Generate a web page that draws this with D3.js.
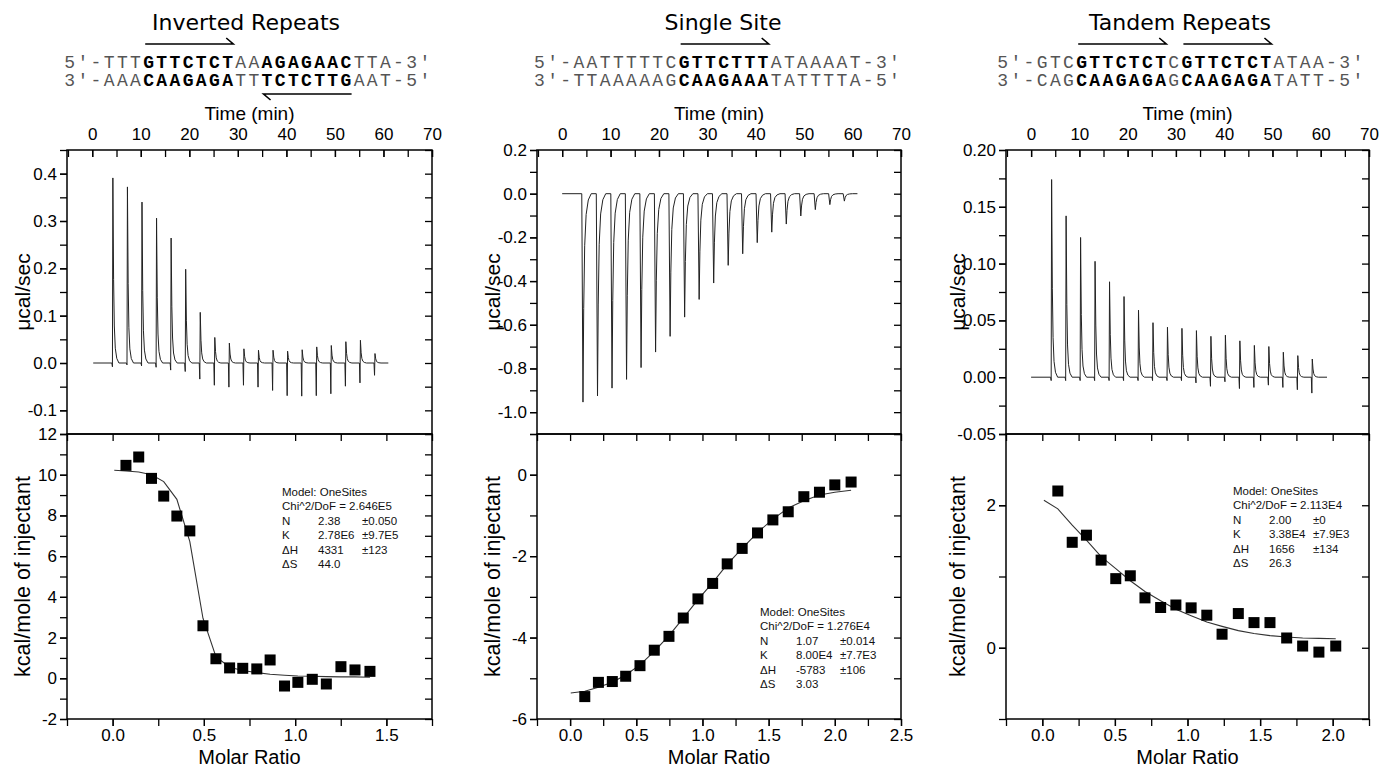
<!DOCTYPE html>
<html>
<head>
<meta charset="utf-8">
<script src="https://cdn.jsdelivr.net/npm/d3@7"></script>
<style>
body { margin: 0; background: #fff; }
</style>
</head>
<body>
<svg id="chart" width="1382" height="770" font-family="Liberation Sans, Arial, sans-serif"></svg>
<script>
const WIDTH = 1382, HEIGHT = 770;
const TOP_Y = 150, MID_Y = 434, BOT_Y = 719;
const TICK = 7;
const PANEL_LEFT = [67, 537, 1006];
const PANEL_RIGHT = [432, 901, 1369];
const TITLE_X = [246, 723, 1180];
const SEQ_X = [64.3, 534, 997.3];
const YLABEL_OFFSET = [37, 37, 41];
const CHAR_W = 13.15;
const SEQ_FONT = 18;

// ---- header text ----
const TITLES = ["Inverted Repeats", "Single Site", "Tandem Repeats"];
// [text, bold]
const SEQ_TOP = [
  [["5'-TTT", 0], ["GTTCTCT", 1], ["AA", 0], ["AGAGAAC", 1], ["TTA-3'", 0]],
  [["5'-AATTTTTC", 0], ["GTTCTTT", 1], ["ATAAAAT-3'", 0]],
  [["5'-GTC", 0], ["GTTCTCT", 1], ["C", 0], ["GTTCTCT", 1], ["ATAA-3'", 0]]
];
const SEQ_BOT = [
  [["3'-AAA", 0], ["CAAGAGA", 1], ["TT", 0], ["TCTCTTG", 1], ["AAT-5'", 0]],
  [["3'-TTAAAAAG", 0], ["CAAGAAA", 1], ["TATTTTA-5'", 0]],
  [["3'-CAG", 0], ["CAAGAGA", 1], ["G", 0], ["CAAGAGA", 1], ["TATT-5'", 0]]
];
// arrows: [first char index, last char index, direction]
const ARROWS = [
  [[6, 12, "right"], [15, 21, "left"]],
  [[11, 17, "right"]],
  [[6, 12, "right"], [14, 20, "right"]]
];

// ---- raw thermogram (top panels) ----
const TIME_DOMAIN = [-5.2, 70];
const TIME_TICKS = [0, 10, 20, 30, 40, 50, 60, 70];
const INJ_TIMES = [4.2, 7.2, 10.2, 13.2, 16.2, 19.2, 22.2, 25.2, 28.2, 31.2,
  34.2, 37.2, 40.2, 43.2, 46.2, 49.2, 52.2, 55.2, 58.2];

const IR_PEAKS = [0.391, 0.372, 0.340, 0.306, 0.264, 0.198, 0.107, 0.054, 0.042, 0.030,
  0.027, 0.027, 0.025, 0.028, 0.034, 0.037, 0.045, 0.048, 0.020];
const IR_DIPS = [-0.008, -0.004, -0.006, -0.009, -0.015, -0.018, -0.034, -0.047, -0.051, -0.047,
  -0.051, -0.058, -0.069, -0.070, -0.069, -0.065, -0.049, -0.042, -0.026];
const SS_PEAKS = [-0.954, -0.926, -0.890, -0.850, -0.796, -0.725, -0.653, -0.565, -0.484, -0.409,
  -0.328, -0.275, -0.224, -0.176, -0.139, -0.102, -0.073, -0.050, -0.034];
const TR_PEAKS = [0.174, 0.142, 0.123, 0.102, 0.084, 0.071, 0.059, 0.048, 0.044, 0.043,
  0.041, 0.036, 0.037, 0.032, 0.028, 0.027, 0.022, 0.019, 0.016];
const TR_DIPS = [-0.003, -0.003, -0.003, -0.003, -0.003, -0.003, -0.003, -0.003, -0.003, -0.003,
  -0.005, -0.008, -0.004, -0.010, -0.009, -0.007, -0.009, -0.011, -0.014];
const TRACE_SPAN = [[0.2, 61], [0, 61], [0, 61.3]];

// peak glyph: [minutes after injection, fraction of peak height]
const SHARP_SHAPE = [[0.05, 1], [0.2, 0.45], [0.35, 0.2], [0.55, 0.08], [0.85, 0.025], [1.3, 0]];
const WIDE_SHAPE = [[0.1, 1], [0.25, 0.55], [0.45, 0.25], [0.75, 0.1], [1.2, 0.03], [1.8, 0]];

const IR_FLOW_TICKS = [-0.1, 0, 0.1, 0.2, 0.3, 0.4];
const SS_FLOW_TICKS = [-1.0, -0.8, -0.6, -0.4, -0.2, 0, 0.2];
const TR_FLOW_TICKS = [-0.05, 0, 0.05, 0.10, 0.15, 0.20];

// ---- integrated heats (bottom panels) ----
const IR_RATIO = [0.073, 0.143, 0.213, 0.280, 0.352, 0.423, 0.495, 0.566, 0.641, 0.713,
  0.790, 0.863, 0.942, 1.015, 1.094, 1.171, 1.251, 1.328, 1.410];
const IR_HEAT = [10.46, 10.87, 9.82, 8.95, 7.97, 7.24, 2.58, 0.96, 0.51, 0.49,
  0.46, 0.90, -0.38, -0.20, -0.05, -0.28, 0.57, 0.41, 0.34];
const IR_FIT_RATIO = [0.009].concat(IR_RATIO);
const IR_FIT = [10.22, 10.18, 10.13, 10.00, 9.66, 8.79, 6.71, 2.95, 1.06, 0.54, 0.38,
  0.28, 0.20, 0.15, 0.11, 0.10, 0.08, 0.07, 0.07, 0.05];

const SS_RATIO = [0.111, 0.214, 0.319, 0.420, 0.528, 0.636, 0.747, 0.855, 0.966, 1.077,
  1.187, 1.300, 1.416, 1.532, 1.648, 1.766, 1.884, 2.000, 2.123];
const SS_HEAT = [-5.45, -5.10, -5.08, -4.95, -4.69, -4.31, -3.97, -3.52, -3.05, -2.67,
  -2.19, -1.81, -1.43, -1.11, -0.91, -0.54, -0.43, -0.25, -0.18];
const SS_FIT_RATIO = [0.005].concat(SS_RATIO);
const SS_FIT = [-5.36, -5.32, -5.22, -5.10, -4.92, -4.67, -4.34, -3.95, -3.52, -3.07, -2.65,
  -2.20, -1.81, -1.42, -1.09, -0.82, -0.64, -0.50, -0.43, -0.38];

const TR_RATIO = [0.107, 0.206, 0.304, 0.405, 0.506, 0.606, 0.707, 0.815, 0.920, 1.025,
  1.133, 1.238, 1.350, 1.458, 1.568, 1.683, 1.793, 1.905, 2.021];
const TR_HEAT = [2.20, 1.48, 1.58, 1.23, 0.97, 1.01, 0.70, 0.565, 0.60, 0.56,
  0.457, 0.19, 0.48, 0.353, 0.353, 0.137, 0.024, -0.061, 0.024];
const TR_FIT_RATIO = [0.011].concat(TR_RATIO);
const TR_FIT = [2.07, 1.95, 1.72, 1.51, 1.28, 1.11, 0.94, 0.79, 0.66, 0.54, 0.45,
  0.36, 0.30, 0.24, 0.20, 0.17, 0.15, 0.137, 0.132, 0.127];

const IR_RATIO_TICKS = [0, 0.5, 1.0, 1.5];
const SS_RATIO_TICKS = [0, 0.5, 1.0, 1.5, 2.0, 2.5];
const TR_RATIO_TICKS = [0, 0.5, 1.0, 1.5, 2.0];
const IR_HEAT_TICKS = [-2, 0, 2, 4, 6, 8, 10, 12];
const SS_HEAT_TICKS = [-6, -4, -2, 0];
const TR_HEAT_TICKS = [0, 2];

const IR_FIT_TEXT = ["Model: OneSites", "Chi^2/DoF = 2.646E5",
  ["N", "2.38", "±0.050"], ["K", "2.78E6", "±9.7E5"], ["ΔH", "4331", "±123"], ["ΔS", "44.0", ""]];
const SS_FIT_TEXT = ["Model: OneSites", "Chi^2/DoF = 1.276E4",
  ["N", "1.07", "±0.014"], ["K", "8.00E4", "±7.7E3"], ["ΔH", "-5783", "±106"], ["ΔS", "3.03", ""]];
const TR_FIT_TEXT = ["Model: OneSites", "Chi^2/DoF = 2.113E4",
  ["N", "2.00", "±0"], ["K", "3.38E4", "±7.9E3"], ["ΔH", "1656", "±134"], ["ΔS", "26.3", ""]];
const FIT_TEXT_POS = [[282, 496], [760, 616], [1233, 495]];

var panels = [
  {peaks: IR_PEAKS, dips: IR_DIPS, shape: SHARP_SHAPE, flow: [-0.15, 0.45], flowTicks: IR_FLOW_TICKS,
    flowMinor: 0.05, flowFmt: 1, ratio: IR_RATIO, heat: IR_HEAT, fitRatio: IR_FIT_RATIO, fit: IR_FIT,
    ratioDomain: [-0.25, 1.75], ratioTicks: IR_RATIO_TICKS, heatDomain: [-2, 12], heatTicks: IR_HEAT_TICKS,
    fitText: IR_FIT_TEXT},
  {peaks: SS_PEAKS, dips: null, shape: WIDE_SHAPE, flow: [-1.1, 0.2], flowTicks: SS_FLOW_TICKS,
    flowMinor: 0.1, flowFmt: 1, ratio: SS_RATIO, heat: SS_HEAT, fitRatio: SS_FIT_RATIO, fit: SS_FIT,
    ratioDomain: [-0.25, 2.5], ratioTicks: SS_RATIO_TICKS, heatDomain: [-6, 1], heatTicks: SS_HEAT_TICKS,
    fitText: SS_FIT_TEXT},
  {peaks: TR_PEAKS, dips: TR_DIPS, shape: SHARP_SHAPE, flow: [-0.05, 0.20], flowTicks: TR_FLOW_TICKS,
    flowMinor: 0.025, flowFmt: 2, ratio: TR_RATIO, heat: TR_HEAT, fitRatio: TR_FIT_RATIO, fit: TR_FIT,
    ratioDomain: [-0.25, 2.25], ratioTicks: TR_RATIO_TICKS, heatDomain: [-1, 3], heatTicks: TR_HEAT_TICKS,
    fitText: TR_FIT_TEXT}
];

var SVG = d3.select("#chart");

function stepValues(domain, step) {
  var out = [];
  var start = Math.ceil(domain[0] / step - 1e-6);
  var end = Math.floor(domain[1] / step + 1e-6);
  for (var i = start; i <= end; i++) out.push(+(i * step).toFixed(4));
  return out;
}

function styleAxis(g) {
  g.select(".domain").remove();
  g.selectAll("line").attr("stroke", "#000").attr("stroke-width", 1.3);
  g.selectAll("text").attr("font-size", 17).attr("fill", "#000")
    .attr("font-family", "Liberation Sans, Arial, sans-serif");
}

function drawAxis(gen, x, y, values, size, fmt, pad) {
  var g = SVG.append("g").attr("transform", "translate(" + x + "," + y + ")");
  g.call(gen.tickValues(values).tickSize(size).tickPadding(pad || 3).tickFormat(fmt || (() => "")));
  styleAxis(g);
  return g;
}

function buildTrace(p, span) {
  var pts = [[span[0], 0]];
  INJ_TIMES.forEach(function (t, i) {
    pts.push([t - 0.15, 0]);
    if (p.dips) pts.push([t - 0.04, p.dips[i]]);
    p.shape.forEach(function (s) { pts.push([t + s[0], p.peaks[i] * s[1]]); });
  });
  pts.push([span[1], 0]);
  return pts;
}

function drawHeader(i) {
  SVG.append("text").attr("x", TITLE_X[i]).attr("y", 30).attr("text-anchor", "middle")
    .attr("font-family", "DejaVu Sans, sans-serif").attr("font-size", 22).text(TITLES[i]);

  [[SEQ_TOP[i], 67.5], [SEQ_BOT[i], 86]].forEach(function (row) {
    var t = SVG.append("text").attr("x", SEQ_X[i]).attr("y", row[1])
      .attr("font-family", "Liberation Mono, monospace").attr("font-size", SEQ_FONT)
      .attr("letter-spacing", (CHAR_W - 0.6 * SEQ_FONT).toFixed(2) + "px");
    row[0].forEach(function (part) {
      t.append("tspan").text(part[0])
        .attr("font-weight", part[1] ? "bold" : "normal")
        .attr("fill", part[1] ? "#000" : "#555");
    });
  });

  ARROWS[i].forEach(function (a) {
    var x0 = SEQ_X[i] + a[0] * CHAR_W + 2, x1 = SEQ_X[i] + (a[1] + 1) * CHAR_W - 2;
    var d;
    if (a[2] === "right") d = "M" + x0 + ",44H" + x1 + "l-7,-6";
    else d = "M" + x1 + ",94H" + x0 + "l7,6";
    SVG.append("path").attr("d", d).attr("fill", "none").attr("stroke", "#000").attr("stroke-width", 1.6);
  });
}

function drawPanel(p, i) {
  var L = PANEL_LEFT[i], R = PANEL_RIGHT[i], W = R - L;
  drawHeader(i);

  var xTime = d3.scaleLinear().domain(TIME_DOMAIN).range([L, R]);
  var yFlow = d3.scaleLinear().domain(p.flow).range([MID_Y, TOP_Y]);
  var xRatio = d3.scaleLinear().domain(p.ratioDomain).range([L, R]);
  var yHeat = d3.scaleLinear().domain(p.heatDomain).range([BOT_Y, MID_Y]);

  var fmtFlow = d => d.toFixed(p.flowFmt);
  var timeMinor = stepValues(TIME_DOMAIN, 5);
  var flowMinor = stepValues(p.flow, p.flowMinor);
  var ratioMinor = stepValues(p.ratioDomain, 0.25);
  var heatMinor = stepValues(p.heatDomain, 1);

  // ---- top panel: raw heat flow ----
  var line = d3.line().x(d => xTime(d[0])).y(d => yFlow(d[1])).curve(d3.curveLinear);
  SVG.append("path").datum(buildTrace(p, TRACE_SPAN[i])).attr("d", line)
    .attr("fill", "none").attr("stroke", "#222").attr("stroke-width", 1);

  var xt = xTime.copy().range([0, W]);
  var yf = yFlow.copy().range([MID_Y - TOP_Y, 0]);
  drawAxis(d3.axisTop(xt), L, TOP_Y, timeMinor, -TICK);
  drawAxis(d3.axisTop(xt), L, TOP_Y, TIME_TICKS, -TICK, d => d, 10);
  drawAxis(d3.axisLeft(yf), L, TOP_Y, flowMinor, TICK);
  drawAxis(d3.axisLeft(yf), L, TOP_Y, p.flowTicks, TICK, fmtFlow, 3);
  drawAxis(d3.axisRight(yf), R, TOP_Y, flowMinor, -TICK);

  // ---- bottom panel: integrated heats + fit ----
  var fitLine = d3.line().x(d => xRatio(d[0])).y(d => yHeat(d[1]));
  SVG.append("path").datum(p.fitRatio.map((r, k) => [r, p.fit[k]])).attr("d", fitLine)
    .attr("fill", "none").attr("stroke", "#333").attr("stroke-width", 1.1);

  SVG.append("g").selectAll("rect").data(p.ratio.map((r, k) => [r, p.heat[k]])).enter()
    .append("rect")
    .attr("x", d => xRatio(d[0]) - 5.5).attr("y", d => yHeat(d[1]) - 5.5)
    .attr("width", 11).attr("height", 11).attr("fill", "#000");

  var xr = xRatio.copy().range([0, W]);
  var yh = yHeat.copy().range([BOT_Y - MID_Y, 0]);
  drawAxis(d3.axisBottom(xr), L, MID_Y, ratioMinor, TICK);
  drawAxis(d3.axisBottom(xr), L, BOT_Y, ratioMinor, TICK);
  drawAxis(d3.axisBottom(xr), L, BOT_Y, p.ratioTicks, TICK, d => d.toFixed(1), 3);
  drawAxis(d3.axisLeft(yh), L, MID_Y, heatMinor, TICK);
  drawAxis(d3.axisLeft(yh), L, MID_Y, p.heatTicks, TICK, d => String(d), 3);
  drawAxis(d3.axisRight(yh), R, MID_Y, heatMinor, -TICK);

  // frames
  [[TOP_Y, MID_Y], [MID_Y, BOT_Y]].forEach(function (f) {
    SVG.append("rect").attr("x", L).attr("y", f[0]).attr("width", W).attr("height", f[1] - f[0])
      .attr("fill", "none").attr("stroke", "#000").attr("stroke-width", 1.5);
  });

  // axis titles
  var cx = (L + R) / 2;
  var lx = L - YLABEL_OFFSET[i];
  SVG.append("text").attr("x", cx).attr("y", 120).attr("text-anchor", "middle")
    .attr("font-size", 19).text("Time (min)");
  SVG.append("text").attr("x", cx).attr("y", 764).attr("text-anchor", "middle")
    .attr("font-size", 20).text("Molar Ratio");
  SVG.append("text").attr("transform", "translate(" + lx + "," + ((TOP_Y + MID_Y) / 2) + ") rotate(-90)")
    .attr("text-anchor", "middle").attr("font-size", 21).text("μcal/sec");
  SVG.append("text").attr("transform", "translate(" + lx + "," + ((MID_Y + BOT_Y) / 2) + ") rotate(-90)")
    .attr("text-anchor", "middle").attr("font-size", 21.5).text("kcal/mole of injectant");

  // fit report
  var pos = FIT_TEXT_POS[i];
  var box = SVG.append("g").attr("font-size", 11.5).attr("fill", "#111");
  p.fitText.forEach(function (row, k) {
    var y = pos[1] + k * 14.4;
    if (typeof row === "string") {
      box.append("text").attr("x", pos[0]).attr("y", y).text(row);
    } else {
      [0, 36, 80].forEach(function (dx, c) {
        box.append("text").attr("x", pos[0] + dx).attr("y", y).text(row[c]);
      });
    }
  });
}

panels.forEach(drawPanel);
</script>
</body>
</html>
